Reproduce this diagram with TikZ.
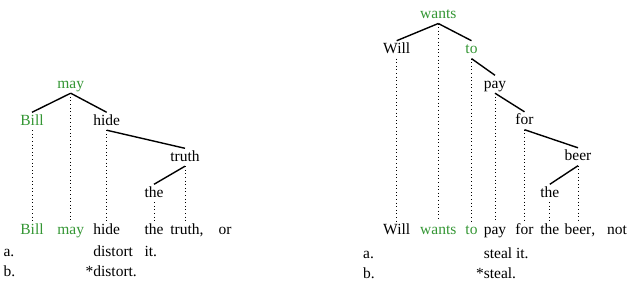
\documentclass[tikz,border=0pt]{standalone}
\usepackage{fontspec}
\setmainfont{Liberation Serif}
\definecolor{headgreen}{RGB}{52,150,52}
\begin{document}
\begin{tikzpicture}[x=1pt, y=-1pt, font=\fontsize{15.5}{18}\selectfont]
  \tikzset{word/.style={anchor=base, inner sep=1.5pt, text height=11pt, text depth=3.5pt},
    head/.style={word, text=headgreen},
    row/.style={word, anchor=base west},
    edge/.style={line width=1.4pt},
    proj/.style={line width=1pt, dash pattern=on 1pt off 2.6pt}}
  \useasboundingbox (0,0) rectangle (635,285);
  % left tree
  \node[head] (may) at (70.7,88) {may};
  \node[head] (Bill) at (32,125) {Bill};
  \node[word] (hide) at (106.7,125) {hide};
  \node[word] (truth) at (185,161) {truth};
  \node[word] (theL) at (154,197) {the};
  \node[head] (bBill) at (32,234) {Bill};
  \node[head] (bmay) at (70.7,234) {may};
  \node[word] (bhide) at (106.7,234) {hide};
  \node[word] (btheL) at (154,234) {the};
  \node[word] (btruth) at (185,234) {truth\rlap{,}};
  \node[word] (bor) at (225,234) {or};
  \node[row] (la) at (1.8,256.5) {a.};
  \node[row] (adistort) at (bhide.base west |- 0,256.5) {distort};
  \node[row] (ait) at (btheL.base west |- 0,256.5) {it.};
  \node[row] (lb) at (1.8,276.7) {b.};
  \node[row] (bdistort) at (bhide.base west |- 0,276.7) {\llap{*}distort.};
  \draw[edge] (may.south) -- (Bill.north);
  \draw[edge] (may.south) -- (hide.north);
  \draw[edge] (hide.south) -- (truth.north);
  \draw[edge] (truth.south) -- (theL.north);
  \draw[proj] (Bill) -- (bBill);
  \draw[proj] (may) -- (bmay);
  \draw[proj] (hide) -- (bhide);
  \draw[proj] (theL) -- (btheL);
  \draw[proj] (truth) -- (btruth);
  % right tree
  \node[head] (wants) at (438.3,18.3) {wants};
  \node[word] (Will) at (396.7,53.4) {Will};
  \node[head] (to) at (471.5,53.4) {to};
  \node[word] (pay) at (495,88) {pay};
  \node[word] (for) at (524.5,124.5) {for};
  \node[word] (beer) at (578,160.5) {beer};
  \node[word] (theR) at (549.8,197) {the};
  \node[word] (bWill) at (396.7,234) {Will};
  \node[head] (bwants) at (438.3,234) {wants};
  \node[head] (bto) at (471.5,234) {to};
  \node[word] (bpay) at (495,234) {pay};
  \node[word] (bfor) at (524.5,234) {for};
  \node[word] (btheR) at (549.8,234) {the};
  \node[word] (bbeer) at (578,234) {beer\rlap{,}};
  \node[word] (bnot) at (617,234) {not};
  \node[row] (ra) at (361.5,258) {a.};
  \node[row] (asteal) at (bpay.base west |- 0,258) {steal it.};
  \node[row] (rb) at (361.5,278.3) {b.};
  \node[row] (bsteal) at (bpay.base west |- 0,278.3) {\llap{*}steal.};
  \draw[edge] (wants.south) -- (Will.north);
  \draw[edge] (wants.south) -- (to.north);
  \draw[edge] (to.south) -- (pay.north);
  \draw[edge] (pay.south) -- (for.north);
  \draw[edge] (for.south) -- (beer.north);
  \draw[edge] (beer.south) -- (theR.north);
  \draw[proj] (Will) -- (bWill);
  \draw[proj] (wants) -- (bwants);
  \draw[proj] (to) -- (bto);
  \draw[proj] (pay) -- (bpay);
  \draw[proj] (for) -- (bfor);
  \draw[proj] (theR) -- (btheR);
  \draw[proj] (beer) -- (bbeer);
\end{tikzpicture}
\end{document}
